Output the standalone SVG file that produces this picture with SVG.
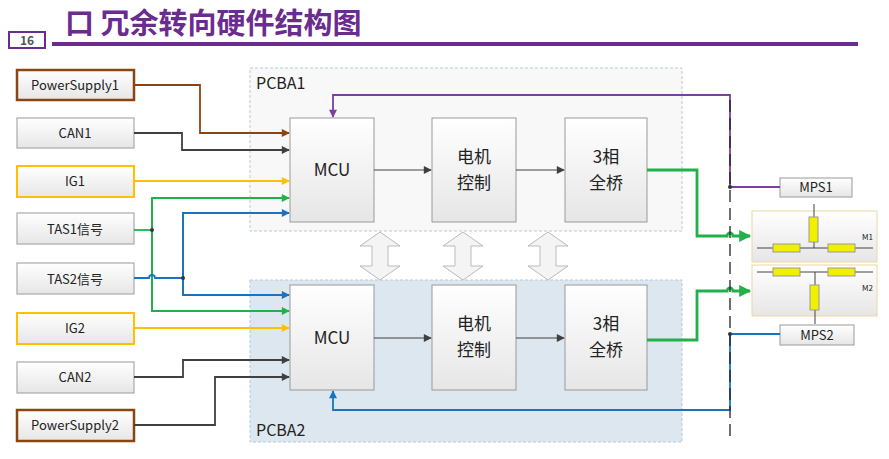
<svg xmlns="http://www.w3.org/2000/svg" width="889" height="459" viewBox="0 0 889 459">
<defs>
<linearGradient id="g" x1="0" y1="0" x2="0" y2="1"><stop offset="0" stop-color="#ffffff"/><stop offset="1" stop-color="#e6e6e6"/></linearGradient>
<marker id="a" viewBox="0 0 10 10" refX="9" refY="5" markerWidth="9" markerHeight="8" orient="auto" markerUnits="userSpaceOnUse"><path d="M0,0 L10,5 L0,10 z" fill="context-stroke"/></marker>
<marker id="ab" viewBox="0 0 10 10" refX="9" refY="5" markerWidth="14" markerHeight="12" orient="auto" markerUnits="userSpaceOnUse"><path d="M0,0 L10,5 L0,10 z" fill="context-stroke"/></marker>
</defs>
<style>
text{font-family:"Noto Sans CJK SC","Noto Sans",sans-serif;fill:#222}
.in rect{fill:url(#g);stroke:#aaa;stroke-width:1.2}
.in text{font-size:13px;text-anchor:middle}
.blk rect{fill:url(#g);stroke:#999}
.blk text{font-size:17px;text-anchor:middle}
.c path{fill:none;stroke-width:1.8}
.m{marker-end:url(#a)}
.big{marker-end:url(#ab)}
</style>
<rect width="889" height="459" fill="#fff"/>
<g id="title">
<text x="65" y="34" style="font-size:29px;font-weight:bold;fill:#6a2c8e">口 冗余转向硬件结构图</text>
<rect x="9" y="32" width="36" height="16" fill="#fff" stroke="#6a2c8e" stroke-width="2"/>
<text x="27" y="45" style="font-size:12px;font-weight:bold;text-anchor:middle;fill:#555">16</text>
<rect x="52" y="42" width="806" height="4" fill="#6a2c8e"/>
</g>
<g id="pcba1"><rect x="250" y="68" width="432" height="163" fill="#f8f8f8" stroke="#b8c8d8" stroke-dasharray="3,2"/><text x="256" y="89" style="font-size:16px">PCBA1</text></g>
<g id="pcba2"><rect x="250" y="280" width="432" height="162" fill="#dde7f0" stroke="#b8c8d8" stroke-dasharray="3,2"/><text x="256" y="436" style="font-size:16px">PCBA2</text></g>
<g id="PowerSupply1" class="in"><rect x="17" y="70" width="117" height="30" style="stroke:#8b4513;stroke-width:2.5"/><text x="75" y="90">PowerSupply1</text></g>
<g id="CAN1" class="in"><rect x="17" y="118" width="117" height="30"/><text x="75" y="138">CAN1</text></g>
<g id="IG1" class="in"><rect x="17" y="166" width="117" height="31" style="stroke:#ffc000;stroke-width:2"/><text x="75" y="186">IG1</text></g>
<g id="TAS1" class="in"><rect x="17" y="213" width="117" height="31"/><text x="75" y="234">TAS1信号</text></g>
<g id="TAS2" class="in"><rect x="17" y="263" width="117" height="31"/><text x="75" y="284">TAS2信号</text></g>
<g id="IG2" class="in"><rect x="17" y="313" width="117" height="31" style="stroke:#ffc000;stroke-width:2"/><text x="75" y="333">IG2</text></g>
<g id="CAN2" class="in"><rect x="17" y="362" width="117" height="31"/><text x="75" y="382">CAN2</text></g>
<g id="PowerSupply2" class="in"><rect x="17" y="410" width="117" height="31" style="stroke:#8b4513;stroke-width:2.5"/><text x="75" y="430">PowerSupply2</text></g>
<g id="MCU1" class="blk"><rect x="290" y="118" width="84" height="104"/><text x="332" y="176">MCU</text></g>
<g id="Motor1" class="blk"><rect x="432" y="118" width="84" height="104"/><text x="474" y="163">电机</text><text x="474" y="189">控制</text></g>
<g id="Bridge1" class="blk"><rect x="565" y="118" width="82" height="104"/><text x="606" y="163">3相</text><text x="606" y="189">全桥</text></g>
<g id="MCU2" class="blk"><rect x="290" y="285" width="84" height="105"/><text x="332" y="344">MCU</text></g>
<g id="Motor2" class="blk"><rect x="432" y="285" width="84" height="105"/><text x="474" y="330">电机</text><text x="474" y="356">控制</text></g>
<g id="Bridge2" class="blk"><rect x="565" y="285" width="82" height="105"/><text x="606" y="330">3相</text><text x="606" y="356">全桥</text></g>
<g id="MPS1" class="in"><rect x="780" y="178" width="72" height="19"/><text x="816" y="192">MPS1</text></g>
<g id="MPS2" class="in"><rect x="780" y="325" width="74" height="20"/><text x="817" y="340">MPS2</text></g>
<g id="M1">
<rect x="752" y="211" width="125" height="51" fill="url(#g)" stroke="#f0d8a0"/>
<path d="M814,204V248M757,248H873" stroke="#444" fill="none"/>
<rect x="809" y="217" width="9" height="25" fill="#f0f000" stroke="#999"/>
<rect x="773" y="244" width="27" height="8" fill="#f0f000" stroke="#999"/>
<rect x="828" y="244" width="27" height="8" fill="#f0f000" stroke="#999"/>
<text x="862" y="240" style="font-size:8px">M1</text></g>
<g id="M2">
<rect x="752" y="265" width="125" height="51" fill="url(#g)" stroke="#f0d8a0"/>
<path d="M815,272V324M757,272H873" stroke="#444" fill="none"/>
<rect x="773" y="268" width="27" height="8" fill="#f0f000" stroke="#999"/>
<rect x="828" y="268" width="27" height="8" fill="#f0f000" stroke="#999"/>
<rect x="810" y="285" width="9" height="25" fill="#f0f000" stroke="#999"/>
<text x="862" y="291" style="font-size:8px">M2</text></g>
<g id="connectors" class="c">
<path d="M134,85H200V133H289" stroke="#8b4513" class="m"/>
<path d="M134,133H182V150H289" stroke="#404040" class="m"/>
<path d="M134,181H289" stroke="#ffc000" class="m"/>
<path d="M134,230H152" stroke="#22b04a"/>
<path d="M152,311V198H289" stroke="#22b04a" class="m"/>
<path d="M152,198V311H289" stroke="#22b04a" class="m"/>
<path d="M134,278H149a3,3 0 0 1 6,0H183" stroke="#1a73c0"/>
<path d="M183,295V213H289" stroke="#1a73c0" class="m"/>
<path d="M183,213V295H289" stroke="#1a73c0" class="m"/>
<path d="M134,328H289" stroke="#ffc000" class="m"/>
<path d="M134,377H183V360H289" stroke="#404040" class="m"/>
<path d="M134,425H215V377H289" stroke="#404040" class="m"/>
<path d="M374,170H431" stroke="#404040" class="m" style="stroke-width:1.2"/>
<path d="M516,170H564" stroke="#404040" class="m" style="stroke-width:1.2"/>
<path d="M374,338H431" stroke="#404040" class="m" style="stroke-width:1.2"/>
<path d="M516,338H564" stroke="#404040" class="m" style="stroke-width:1.2"/>
<path d="M647,170H697V236H727a3,3 0 0 1 6,0H750" stroke="#22b04a" class="big" style="stroke-width:2.8"/>
<path d="M647,340H697V291H727a3,3 0 0 1 6,0H750" stroke="#22b04a" class="big" style="stroke-width:2.8"/>
<path d="M780,187H730V95H333V117" stroke="#7b3fa0" class="m"/>
<path d="M780,334H730V410H333V391" stroke="#1a73c0" class="m"/>
<path d="M730,100V440" stroke="#222" stroke-dasharray="12,6" style="stroke-width:1.3"/>
<circle cx="152" cy="230" r="2" fill="#333"/><circle cx="183" cy="278" r="2" fill="#333"/>
<circle cx="730" cy="187" r="2" fill="#333"/><circle cx="730" cy="334" r="2" fill="#333"/>
</g>
<g id="dblarrows" fill="#f4f4f4" stroke="#bbb">
<path d="M380,232l-20,14h12v20h-12l20,14l20,-14h-12v-20h12z"/>
<path d="M463,232l-20,14h12v20h-12l20,14l20,-14h-12v-20h12z"/>
<path d="M548,232l-20,14h12v20h-12l20,14l20,-14h-12v-20h12z"/>
</g>
</svg>
